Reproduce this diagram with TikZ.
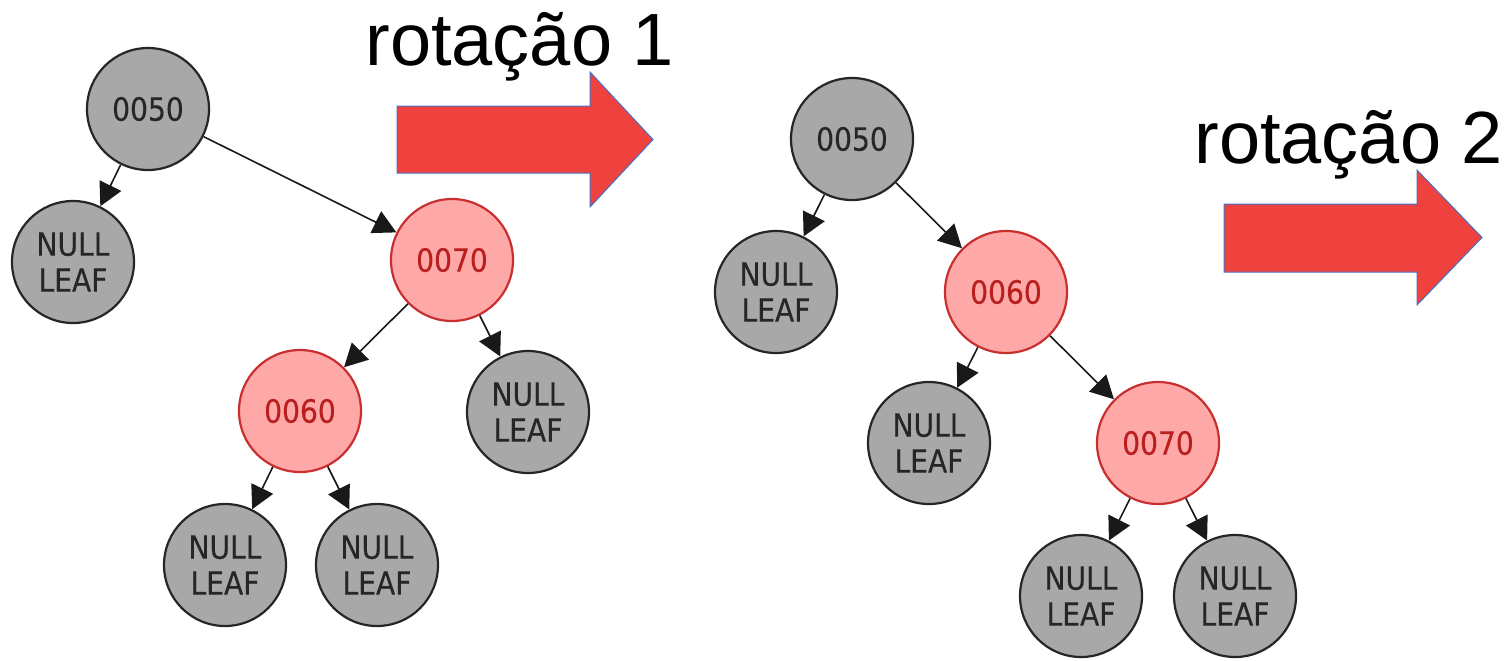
\documentclass[tikz,border=0pt]{standalone}
\usepackage{fontspec}
\setmainfont{Liberation Sans}
\newfontfamily\nodefont[FakeStretch=0.88,FakeBold=0.4]{DejaVu Sans}
\usetikzlibrary{arrows.meta}
\definecolor{nodegray}{RGB}{168,168,168}
\definecolor{nodepink}{RGB}{255,168,168}
\definecolor{nodered}{RGB}{200,48,48}
\definecolor{nodetext}{RGB}{184,32,32}
\definecolor{arrowred}{RGB}{239,65,61}
\definecolor{arrowblue}{RGB}{68,114,196}
\tikzset{
  graynode/.style={circle, draw=black!85, fill=nodegray, line width=1.1pt,
    minimum size=61pt, inner sep=0pt, align=center, text=black!85,
    font={\nodefont\fontsize{16}{18}\selectfont}},
  rednode/.style={graynode, draw=nodered, fill=nodepink, text=nodetext},
  treeedge/.style={-{Triangle[length=11.5pt,width=12pt]}, line width=0.8pt, draw=black!90, fill=black},
  bigarrow/.style={fill=arrowred, draw=arrowblue, line width=0.5pt},
  label/.style={anchor=base west, inner sep=0pt, font={\fontsize{37}{44}\selectfont}}
}
\begin{document}
\begin{tikzpicture}[x=0.5pt,y=-0.5pt]
\useasboundingbox (0,0) rectangle (1507,660);
% left tree
\node[graynode] (a50) at (148,109) {0050};
\node[graynode] (al1) at (73,262) {NULL\\LEAF};
\node[rednode] (a70) at (452,260) {0070};
\node[rednode] (a60) at (300,411) {0060};
\node[graynode] (al2) at (528,412) {NULL\\LEAF};
\node[graynode] (al3) at (225,565) {NULL\\LEAF};
\node[graynode] (al4) at (377,565) {NULL\\LEAF};
\draw[treeedge] (a50) -- (al1);
\draw[treeedge] (a50) -- (a70);
\draw[treeedge] (a70) -- (a60);
\draw[treeedge] (a70) -- (al2);
\draw[treeedge] (a60) -- (al3);
\draw[treeedge] (a60) -- (al4);
% right tree
\node[graynode] (b50) at (852,139) {0050};
\node[graynode] (bl1) at (776,292) {NULL\\LEAF};
\node[rednode] (b60) at (1006,292) {0060};
\node[graynode] (bl2) at (929,443) {NULL\\LEAF};
\node[rednode] (b70) at (1158,443) {0070};
\node[graynode] (bl3) at (1081,596) {NULL\\LEAF};
\node[graynode] (bl4) at (1235,596) {NULL\\LEAF};
\draw[treeedge] (b50) -- (bl1);
\draw[treeedge] (b50) -- (b60);
\draw[treeedge] (b60) -- (bl2);
\draw[treeedge] (b60) -- (b70);
\draw[treeedge] (b70) -- (bl3);
\draw[treeedge] (b70) -- (bl4);
% big arrows
\draw[bigarrow] (397,106) -- (590,106) -- (590,72) -- (653,139.5) -- (590,207) -- (590,173) -- (397,173) -- cycle;
\draw[bigarrow] (1224,204) -- (1417,204) -- (1417,170) -- (1482,237.5) -- (1417,305) -- (1417,272) -- (1224,272) -- cycle;
% labels
\node[label] (r1) at (365,65) {rotação 1};
\node[label] (r2) at (1194,163) {rotação 2};
\end{tikzpicture}
\end{document}
